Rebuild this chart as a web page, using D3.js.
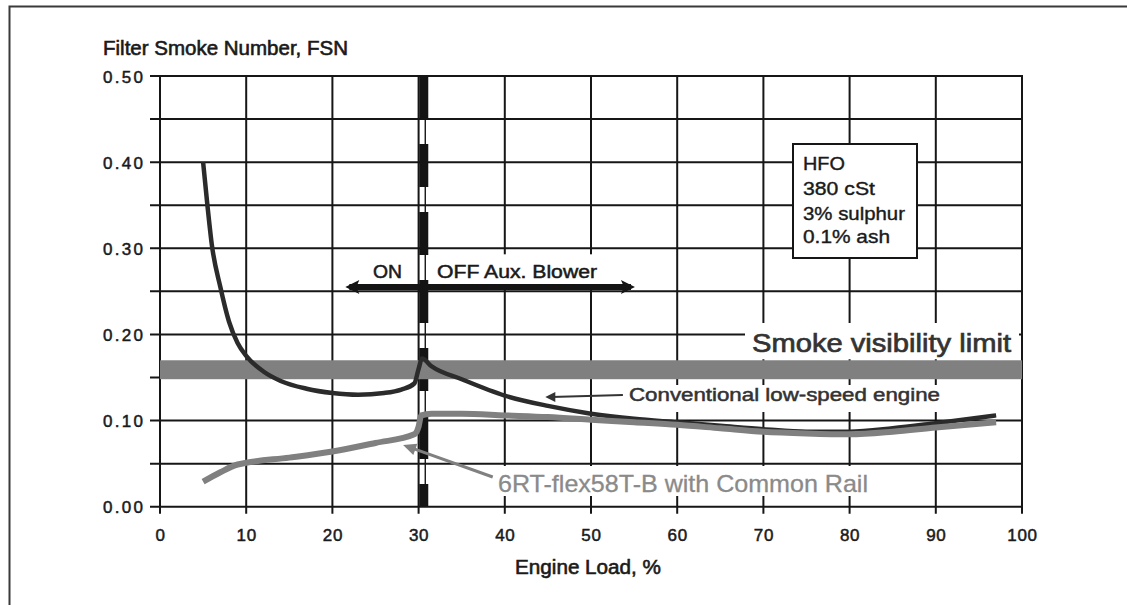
<!DOCTYPE html>
<html><head><meta charset="utf-8">
<script src="https://cdn.jsdelivr.net/npm/d3@7"></script>
<style>
body{margin:0;background:#fff}
svg{display:block;font-family:"Liberation Sans",Arial,sans-serif}
</style>
</head><body>
<svg id="c" width="1127" height="605"></svg>
<script>
// ---------- data ----------
const loadTicks = [0,10,20,30,40,50,60,70,80,90,100];
const fsnTicks = [0,0.1,0.2,0.3,0.4,0.5];
const fsnGrid = [0,0.05,0.1,0.15,0.2,0.25,0.3,0.35,0.4,0.45,0.5];

const conventionalLoad = [5,5.5,6,7,8,9,10,12,14,17,20,23,26,28,29.5,30,30.4,31.5,35,40,45,50,55,60,65,70,75,80,85,90,97];
const conventionalFSN  = [0.40,0.35,0.305,0.255,0.215,0.190,0.175,0.157,0.146,0.137,0.132,0.130,0.132,0.136,0.143,0.160,0.172,0.163,0.148,0.129,0.117,0.108,0.102,0.098,0.094,0.090,0.087,0.087,0.091,0.097,0.106];

const commonRailLoad = [5,7,9,10,15,20,25,29.5,30,30.3,31.5,35,40,45,50,55,60,65,70,75,80,85,90,97];
const commonRailFSN  = [0.029,0.040,0.049,0.051,0.057,0.064,0.074,0.084,0.093,0.106,0.108,0.108,0.106,0.104,0.101,0.098,0.095,0.091,0.087,0.085,0.084,0.087,0.092,0.098];

const smokeLimitFSN = 0.159;
const smokeLimitHalf = 0.011;
const blowerSwitchLoad = 30.6;
const blowerArrowLoad = [21.5, 55.1];
const blowerArrowFSN = 0.255;
const fuelSpec = ["HFO","380 cSt","3% sulphur","0.1% ash"];

const yTitle = "Filter Smoke Number, FSN";
const xTitle = "Engine Load, %";
const limitLabel = "Smoke visibility limit";
const convLabel = "Conventional low-speed engine";
const crLabel = "6RT-flex58T-B with Common Rail";
const onLabel = "ON";
const offLabel = "OFF Aux. Blower";

// ---------- scales ----------
const svg = d3.select("#c");
const x = d3.scaleLinear().domain([0,100]).range([160,1022]);
const y = d3.scaleLinear().domain([0,0.5]).range([506.7,76]);
const ink = "#161616";
function bold(sel, col, w){ return sel.attr("fill",col).attr("stroke",col).attr("stroke-width",w); }

// outer frame
svg.append("path").attr("d","M9.5,605 L9.5,6.5 L1127,6.5")
  .attr("fill","none").attr("stroke","#3a3a3a").attr("stroke-width",2);

// grid
const grid = svg.append("g").attr("stroke",ink).attr("stroke-width",2);
grid.selectAll(".h").data(fsnGrid).join("line")
  .attr("x1",x(0)-10).attr("x2",x(100)+1)
  .attr("y1",d=>y(d)).attr("y2",d=>y(d));
grid.selectAll(".v").data(loadTicks).join("line")
  .attr("x1",d=>x(d)).attr("x2",d=>x(d))
  .attr("y1",y(0.5)-1).attr("y2",y(0)+7);

// axes labels via d3 axes
const yAxis = svg.append("g").attr("transform",`translate(${x(0)},0)`)
  .call(d3.axisLeft(y).tickValues(fsnTicks).tickFormat(d3.format(".2f")).tickSize(0).tickPadding(17));
yAxis.select(".domain").remove();
bold(yAxis.selectAll("text"),"#1a1a1a",0.5).attr("font-size",17)
  .attr("font-family","Liberation Sans, Arial, sans-serif")
  .attr("textLength",40).attr("lengthAdjust","spacing").attr("dy","0.36em");

const xAxis = svg.append("g").attr("transform",`translate(0,${y(0)})`)
  .call(d3.axisBottom(x).tickValues(loadTicks).tickFormat(d3.format("d")).tickSize(0));
xAxis.select(".domain").remove();
bold(xAxis.selectAll("text"),"#1a1a1a",0.5).attr("font-size",17)
  .attr("font-family","Liberation Sans, Arial, sans-serif")
  .attr("y",34).attr("dy",0).attr("letter-spacing",0.7);

// titles
bold(svg.append("text").attr("x",103).attr("y",55).attr("font-size",20),"#1a1a1a",0.6)
  .attr("textLength",245).attr("lengthAdjust","spacingAndGlyphs").text(yTitle);
bold(svg.append("text").attr("x",515).attr("y",574).attr("font-size",20),"#1a1a1a",0.6)
  .attr("textLength",146).attr("lengthAdjust","spacingAndGlyphs").text(xTitle);

// blower switch line (dashed, outlined)
svg.append("line").attr("x1",x(blowerSwitchLoad)+1.5).attr("x2",x(blowerSwitchLoad)+1.5)
  .attr("y1",y(0.5)).attr("y2",y(0)).attr("stroke",ink).attr("stroke-width",1.4);
svg.append("line").attr("x1",x(blowerSwitchLoad)).attr("x2",x(blowerSwitchLoad))
  .attr("y1",y(0.5)).attr("y2",y(0)).attr("stroke","#141414").attr("stroke-width",9)
  .attr("stroke-dasharray","43,25");

// ON/OFF label background + arrow
svg.append("rect").attr("x",x(31.9)).attr("y",y(0.293)).attr("width",x(51.7)-x(31.9)).attr("height",y(0.258)-y(0.293)).attr("fill","#fff");
const ay = y(blowerArrowFSN);
const ax0 = x(blowerArrowLoad[0]), ax1 = x(blowerArrowLoad[1]);
svg.append("line").attr("x1",ax0+4).attr("x2",ax1-4).attr("y1",ay).attr("y2",ay)
  .attr("stroke","#141414").attr("stroke-width",6);
svg.append("path").attr("d",`M${ax0},${ay} L${ax0+14},${ay-7} L${ax0+11},${ay} L${ax0+14},${ay+7} Z`).attr("fill","#141414");
svg.append("path").attr("d",`M${ax1},${ay} L${ax1-14},${ay-7} L${ax1-11},${ay} L${ax1-14},${ay+7} Z`).attr("fill","#141414");
bold(svg.append("text").attr("x",373).attr("y",278).attr("font-size",18),"#1a1a1a",0.5)
  .attr("textLength",29).attr("lengthAdjust","spacingAndGlyphs").text(onLabel);
bold(svg.append("text").attr("x",437).attr("y",278).attr("font-size",18),"#1a1a1a",0.5)
  .attr("textLength",160).attr("lengthAdjust","spacingAndGlyphs").text(offLabel);

// smoke visibility band
svg.append("rect").attr("x",x(0)).attr("width",x(100)-x(0))
  .attr("y",y(smokeLimitFSN+smokeLimitHalf)).attr("height",y(smokeLimitFSN-smokeLimitHalf)-y(smokeLimitFSN+smokeLimitHalf))
  .attr("fill","#808080");
svg.append("rect").attr("x",745).attr("y",323).attr("width",274).attr("height",y(smokeLimitFSN+smokeLimitHalf)-323-1).attr("fill","#fff");
bold(svg.append("text").attr("x",752).attr("y",352).attr("font-size",26),"#333",0.7)
  .attr("textLength",259).attr("lengthAdjust","spacingAndGlyphs").text(limitLabel);

// label boxes for series
svg.append("rect").attr("x",626).attr("y",385).attr("width",320).attr("height",27).attr("fill","#fff");
svg.append("rect").attr("x",494).attr("y",466).attr("width",378).attr("height",30).attr("fill","#fff");

// curves
const line = d3.line().x(d=>x(d[0])).y(d=>y(d[1])).curve(d3.curveMonotoneX);
svg.append("path").datum(conventionalLoad.map((v,i)=>[v,conventionalFSN[i]]))
  .attr("d",line).attr("fill","none").attr("stroke","#2b2b2b").attr("stroke-width",4.5).attr("stroke-linejoin","round");
svg.append("path").datum(commonRailLoad.map((v,i)=>[v,commonRailFSN[i]]))
  .attr("d",line).attr("fill","none").attr("stroke","#808080").attr("stroke-width",6).attr("stroke-linejoin","round");

// series labels and pointer arrows
bold(svg.append("text").attr("x",629).attr("y",401).attr("font-size",18),"#333",0.5)
  .attr("textLength",311).attr("lengthAdjust","spacingAndGlyphs").text(convLabel);
const c0=[x(53.7),y(0.1297)], c1=[x(44.7),y(0.1274)];
svg.append("line").attr("x1",c0[0]).attr("y1",c0[1]).attr("x2",c1[0]+6).attr("y2",c1[1]).attr("stroke","#333").attr("stroke-width",2);
svg.append("path").attr("d",`M${c1[0]},${c1[1]} L${c1[0]+10},${c1[1]-5} L${c1[0]+10},${c1[1]+5} Z`).attr("fill","#333");

bold(svg.append("text").attr("x",498).attr("y",492).attr("font-size",24),"#8a8a8a",0.3)
  .attr("textLength",370).attr("lengthAdjust","spacingAndGlyphs").text(crLabel);
const r0=[x(38.6),y(0.0345)], r1=[x(28.2),y(0.0717)];
const ang = Math.atan2(r0[1]-r1[1], r0[0]-r1[0]);
svg.append("line").attr("x1",r0[0]).attr("y1",r0[1]).attr("x2",r1[0]+8*Math.cos(ang)).attr("y2",r1[1]+8*Math.sin(ang))
  .attr("stroke","#808080").attr("stroke-width",3);
{
  const L=13, W=6;
  const bx=r1[0]+L*Math.cos(ang), by=r1[1]+L*Math.sin(ang);
  const px=-Math.sin(ang)*W, py=Math.cos(ang)*W;
  svg.append("path").attr("d",`M${r1[0]},${r1[1]} L${bx+px},${by+py} L${bx-px},${by-py} Z`).attr("fill","#808080");
}

// fuel spec box
svg.append("rect").attr("x",793).attr("y",144).attr("width",124).attr("height",114)
  .attr("fill","#fff").attr("stroke",ink).attr("stroke-width",2);
const specBase = [170,195,220,243];
const specW = [42,72,102,87];
bold(svg.append("g").selectAll("text").data(fuelSpec).join("text"),"#1a1a1a",0.4)
  .attr("x",803).attr("y",(d,i)=>specBase[i]).attr("font-size",19)
  .attr("textLength",(d,i)=>specW[i]).attr("lengthAdjust","spacingAndGlyphs").text(d=>d);
</script>
</body></html>
